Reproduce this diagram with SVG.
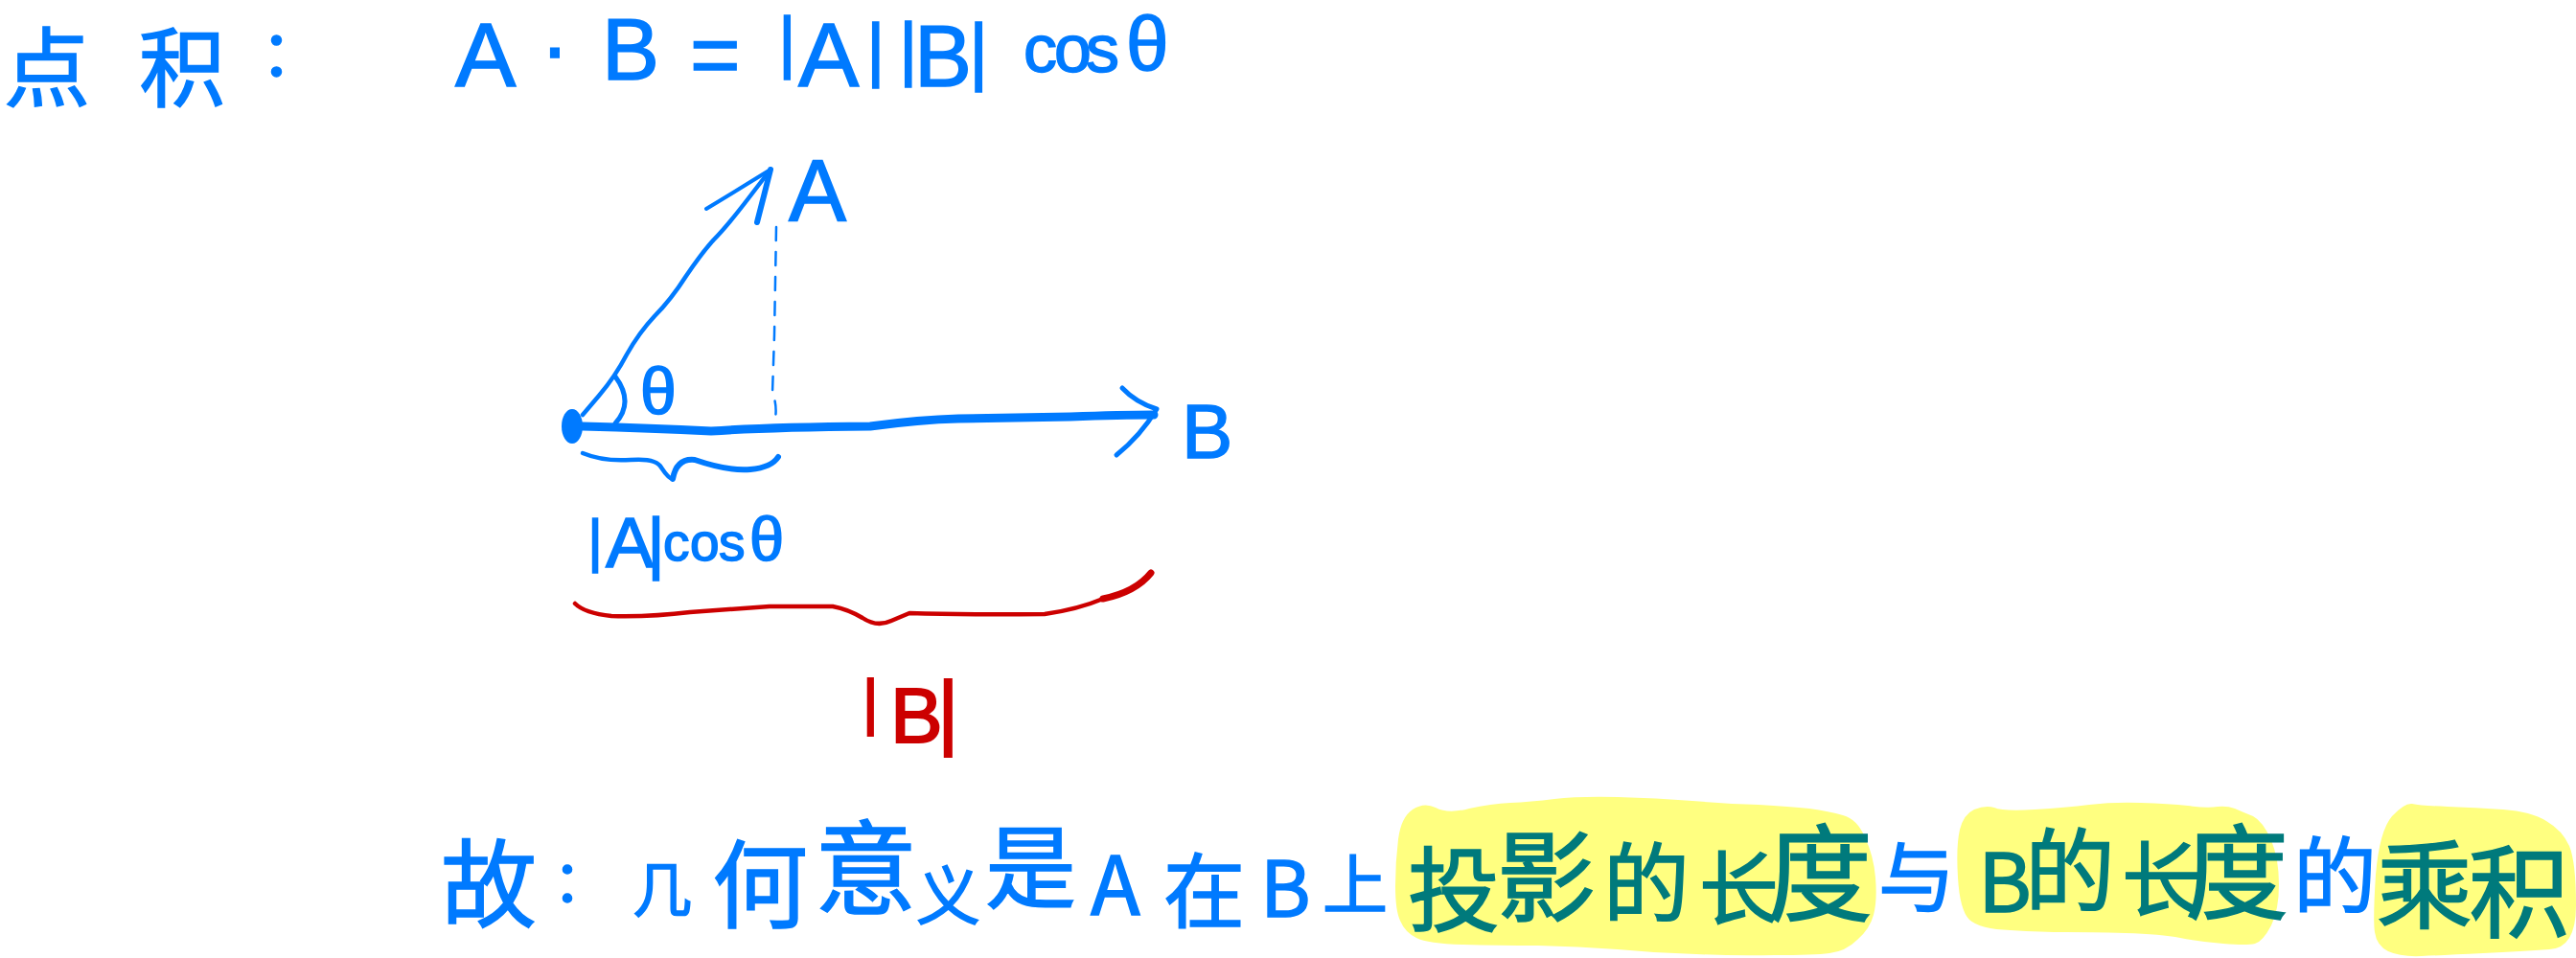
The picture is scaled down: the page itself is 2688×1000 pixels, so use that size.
<svg xmlns="http://www.w3.org/2000/svg" width="2688" height="1000" viewBox="0 0 2688 1000">
<style>
.cjk{font-family:"Noto Sans CJK SC","Noto Sans",sans-serif}
.lat{font-family:"Liberation Sans","DejaVu Sans",sans-serif}
.blue{fill:#007aff;stroke:#007aff;stroke-width:1.5}
.teal{fill:#007a7c;stroke:#007a7c;stroke-width:1.5}
.red{fill:#cc0000;stroke:#cc0000;stroke-width:2}
.hl{fill:#ffff80;stroke:none}
.s{fill:none;stroke-linecap:round;stroke-linejoin:round}
.sb{stroke:#007aff}.sr{stroke:#cc0000}
</style>
<rect width="2688" height="1000" fill="#fff"/>
<g id="highlights">
<path class="hl" d="M1456,925 Q1456,900 1459,876 Q1462,853 1474,845 Q1486,837 1498,843 Q1511,850 1533,844 Q1556,839 1576,838 Q1597,837 1622,834 Q1647,831 1688,832 Q1729,833 1766,836 Q1803,839 1835,840 Q1868,842 1888,844 Q1909,847 1923,851 Q1938,855 1946,874 Q1955,893 1957,916 Q1959,940 1955,955 Q1951,970 1938,981 Q1926,993 1909,995 Q1893,997 1852,997 Q1811,998 1770,996 Q1729,995 1688,991 Q1647,988 1605,987 Q1564,987 1527,986 Q1490,985 1478,979 Q1466,973 1461,961 Q1456,950 1456,925 Z"/>
<path class="hl" d="M2043,916 Q2041,883 2045,866 Q2049,850 2060,845 Q2072,840 2081,843 Q2090,847 2123,845 Q2156,843 2180,840 Q2205,837 2234,838 Q2263,839 2283,841 Q2304,844 2314,842 Q2324,841 2332,844 Q2341,848 2351,852 Q2361,857 2370,877 Q2378,897 2378,923 Q2378,950 2370,966 Q2361,983 2353,985 Q2345,987 2320,985 Q2296,983 2275,979 Q2255,975 2218,974 Q2181,973 2156,973 Q2131,973 2098,971 Q2066,970 2055,960 Q2045,950 2043,916 Z"/>
<path class="hl" d="M2479,913 Q2483,867 2496,852 Q2509,838 2517,839 Q2526,841 2554,842 Q2583,843 2612,845 Q2641,847 2657,857 Q2674,867 2681,883 Q2688,900 2688,945 Q2688,990 2660,991 Q2633,993 2591,995 Q2550,997 2527,998 Q2505,999 2492,993 Q2480,987 2478,973 Q2476,960 2479,913 Z"/>
</g>
<g id="connectors">
<path class="s sb" stroke-width="4.5" d="M608,433 L625,413 Q642,393 654,370 Q667,347 683,330 Q700,313 716,288 Q733,263 745,250 Q758,237 781,207 L804,177"/>
<path class="s sb" stroke-width="4" d="M737,218 Q770,198 804,177"/>
<path class="s sb" stroke-width="6" d="M804,177 Q797,205 790,232"/>
<path class="s sb" stroke-width="2.5" stroke-dasharray="14 12" d="M810,237 L808,350 L806,410 Q812,425 808,442"/>
<path class="s sb" stroke-width="9" d="M608,445 Q680,447 742,450 Q800,446 908,445 Q960,438 1000,437 L1117,435 Q1170,433 1204,433"/>
<ellipse cx="597" cy="445" rx="11" ry="18" fill="#007aff"/>
<path class="s sb" stroke-width="5" d="M1171,405 Q1185,420 1207,427 Q1190,455 1165,475"/>
<path class="s sb" stroke-width="5" d="M642,393 Q662,420 642,442"/>
<path class="s sb" stroke-width="4.5" d="M608,473 Q630,482 658,480 Q685,478 690,488 Q698,500 702,500"/>
<path class="s sb" stroke-width="6" d="M702,500 Q706,478 725,480 Q760,492 783,490 Q805,488 812,477"/>
<path class="s sr" stroke-width="4.5" d="M600,630 Q610,640 638,643 Q680,644 720,639 L803,633 L869,633 Q885,636 900,645 Q915,655 930,648 L949,640 Q1010,642 1090,641 Q1125,636 1151,625"/>
<path class="s sr" stroke-width="7" d="M1151,625 Q1185,618 1201,598"/>
</g>
<g id="title"><text class="cjk blue"><tspan x="4" y="104" font-size="90">点</tspan><tspan x="145" y="104" font-size="90">积</tspan><tspan x="272" y="79" font-size="66">：</tspan></text></g>
<g id="formula"><text class="lat blue"><tspan x="475" y="90" font-size="95">A</tspan><tspan x="564" y="80" font-size="90">·</tspan><tspan x="628" y="83" font-size="90">B</tspan><tspan x="720" y="88" font-size="90">=</tspan><tspan x="812" y="68" font-size="72">|</tspan><tspan x="833" y="90" font-size="95">A</tspan><tspan x="904" y="77" font-size="75">|</tspan><tspan x="938" y="76" font-size="75">|</tspan><tspan x="954" y="90" font-size="90">B</tspan><tspan x="1011" y="80" font-size="78">|</tspan><tspan x="1068" y="75" font-size="70">c</tspan><tspan x="1100" y="75" font-size="70">o</tspan><tspan x="1133" y="75" font-size="70">s</tspan><tspan x="1175" y="73" font-size="80">θ</tspan></text></g>
<g id="label-a"><text class="lat blue" x="823" y="230" font-size="90">A</text></g>
<g id="label-b"><text class="lat blue" x="1233" y="478" font-size="80">B</text></g>
<g id="label-theta"><text class="lat blue" x="668" y="432" font-size="68">θ</text></g>
<g id="label-projection"><text class="lat blue"><tspan x="613" y="585" font-size="62">|</tspan><tspan x="632" y="592" font-size="75">A</tspan><tspan x="675" y="591" font-size="73">|</tspan><tspan x="692" y="585" font-size="55">c</tspan><tspan x="720" y="585" font-size="55">o</tspan><tspan x="750" y="585" font-size="55">s</tspan><tspan x="782" y="585" font-size="65">θ</tspan></text></g>
<g id="label-b-length"><text class="lat red"><tspan x="900" y="755" font-size="64">|</tspan><tspan x="929" y="775" font-size="82">B</tspan><tspan x="978" y="772" font-size="87">|</tspan></text></g>
<g id="conclusion">
<text class="cjk blue"><tspan x="460" y="960" font-size="100">故</tspan><tspan x="577" y="942" font-size="60">：</tspan><tspan x="660" y="952" font-size="62">几</tspan><tspan x="743" y="961" font-size="100">何</tspan><tspan x="850" y="946" font-size="107">意</tspan><tspan x="956" y="960" font-size="67">义</tspan><tspan x="1028" y="941" font-size="95">是</tspan><tspan x="1138" y="955" font-size="85">A</tspan><tspan x="1214" y="962" font-size="85">在</tspan><tspan x="1315" y="957" font-size="80">B</tspan><tspan x="1380" y="949" font-size="68">上</tspan></text>
<text class="cjk teal"><tspan x="1469" y="964" font-size="96">投</tspan><tspan x="1562" y="954" font-size="103">影</tspan><tspan x="1673" y="955" font-size="90">的</tspan><tspan x="1773" y="958" font-size="83">长</tspan><tspan x="1844" y="953" font-size="110">度</tspan></text>
<text class="cjk blue" x="1960" y="945" font-size="80">与</text>
<text class="cjk teal"><tspan x="2064" y="952" font-size="85">B</tspan><tspan x="2113" y="944" font-size="94">的</tspan><tspan x="2214" y="949" font-size="84">长</tspan><tspan x="2280" y="951" font-size="108">度</tspan></text>
<text class="cjk blue" x="2393" y="947" font-size="87">的</text>
<text class="cjk teal"><tspan x="2480" y="961" font-size="100">乘</tspan><tspan x="2576" y="970" font-size="105">积</tspan></text>
</g>
</svg>
